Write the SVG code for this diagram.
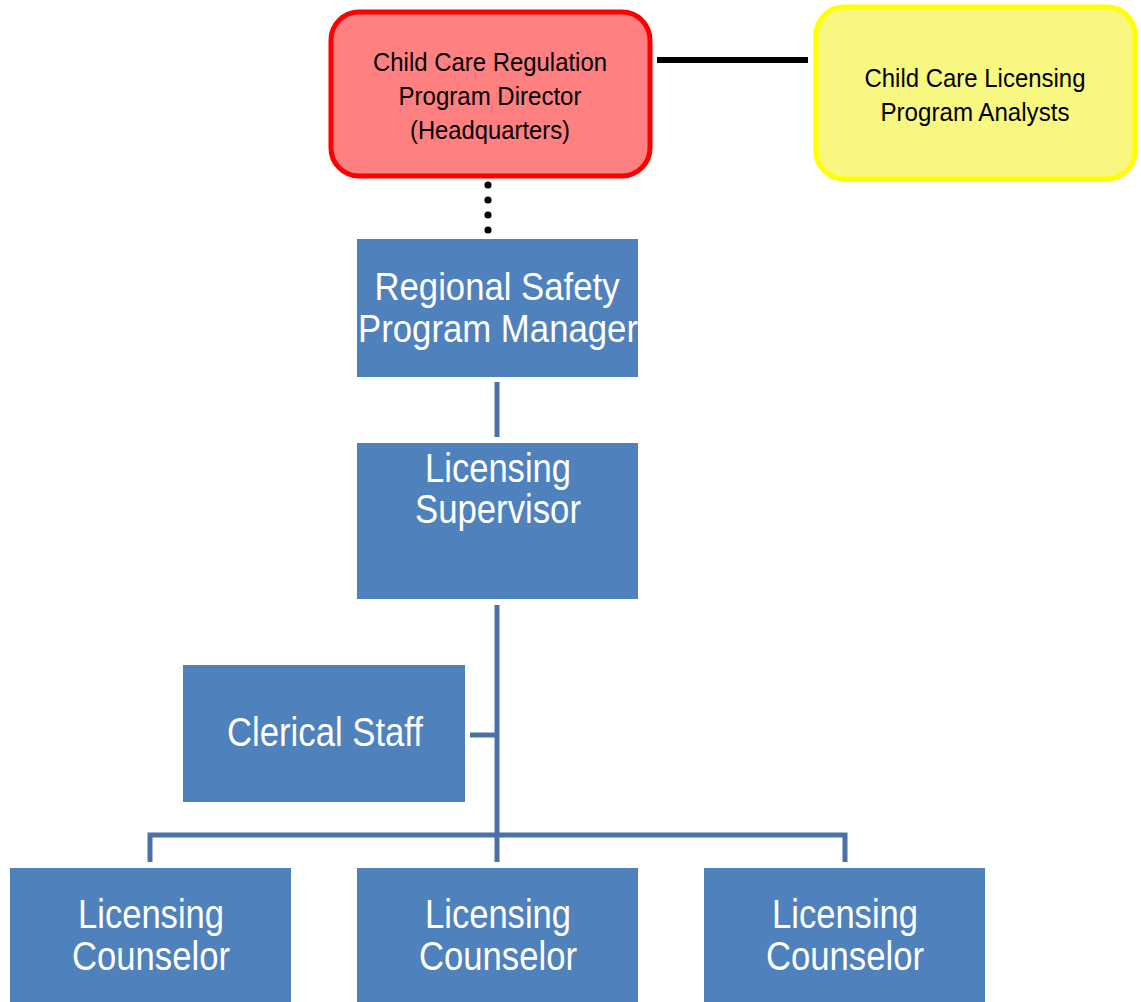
<svg xmlns="http://www.w3.org/2000/svg" width="1141" height="1002" viewBox="0 0 1141 1002">
<style>
.blue{fill:#4F81BD;}
.wt{fill:#FFFFFF;font-family:"Liberation Sans",Arial,sans-serif;font-size:38px;text-anchor:middle;}
.wl{font-size:40px;}
.bt{fill:#000000;font-family:"Liberation Sans",Arial,sans-serif;font-size:26px;text-anchor:middle;}
.conn{stroke:#4A72A8;stroke-width:5;fill:none;}
</style>
<rect width="1141" height="1002" fill="#FFFFFF"/>
<g id="connectors">
<line x1="657" y1="60" x2="808" y2="60" stroke="#000" stroke-width="6"/>
<g fill="#000">
<circle cx="488" cy="185" r="3.6"/>
<circle cx="488" cy="200" r="3.6"/>
<circle cx="488" cy="215" r="3.6"/>
<circle cx="488" cy="230" r="3.6"/>
</g>
<line class="conn" x1="497" y1="382" x2="497" y2="437"/>
<line class="conn" x1="497" y1="605" x2="497" y2="862"/>
<line class="conn" x1="470" y1="735" x2="497" y2="735"/>
<polyline class="conn" points="150,862 150,835 845,835 845,862"/>
</g>
<g id="director">
<rect x="331" y="12" width="319" height="164" rx="28" fill="#FF8080" stroke="#FF0000" stroke-width="5"/>
<text class="bt" x="490" y="71" textLength="234" lengthAdjust="spacingAndGlyphs">Child Care Regulation</text>
<text class="bt" x="490" y="105" textLength="183" lengthAdjust="spacingAndGlyphs">Program Director</text>
<text class="bt" x="490" y="139" textLength="160" lengthAdjust="spacingAndGlyphs">(Headquarters)</text>
</g>
<g id="analysts">
<rect x="816" y="7" width="319" height="172" rx="28" fill="#F8F880" stroke="#FFFF00" stroke-width="5"/>
<text class="bt" x="975" y="87" textLength="221" lengthAdjust="spacingAndGlyphs">Child Care Licensing</text>
<text class="bt" x="975" y="121" textLength="189" lengthAdjust="spacingAndGlyphs">Program Analysts</text>
</g>
<g id="regional">
<rect class="blue" x="357" y="239" width="281" height="138"/>
<text class="wt" x="497" y="300" textLength="245" lengthAdjust="spacingAndGlyphs">Regional Safety</text>
<text class="wt" x="498" y="342" textLength="280" lengthAdjust="spacingAndGlyphs">Program Manager</text>
</g>
<g id="supervisor">
<rect class="blue" x="357" y="443" width="281" height="156"/>
<text class="wt wl" x="498" y="482" textLength="146" lengthAdjust="spacingAndGlyphs">Licensing</text>
<text class="wt wl" x="498" y="523" textLength="166" lengthAdjust="spacingAndGlyphs">Supervisor</text>
</g>
<g id="clerical">
<rect class="blue" x="183" y="665" width="282" height="137"/>
<text class="wt wl" x="325" y="746" textLength="196" lengthAdjust="spacingAndGlyphs">Clerical Staff</text>
</g>
<g id="counselor1">
<rect class="blue" x="10" y="868" width="281" height="140"/>
<text class="wt wl" x="151" y="928" textLength="146" lengthAdjust="spacingAndGlyphs">Licensing</text>
<text class="wt wl" x="151" y="970" textLength="158" lengthAdjust="spacingAndGlyphs">Counselor</text>
</g>
<g id="counselor2">
<rect class="blue" x="357" y="868" width="281" height="140"/>
<text class="wt wl" x="498" y="928" textLength="146" lengthAdjust="spacingAndGlyphs">Licensing</text>
<text class="wt wl" x="498" y="970" textLength="158" lengthAdjust="spacingAndGlyphs">Counselor</text>
</g>
<g id="counselor3">
<rect class="blue" x="704" y="868" width="281" height="140"/>
<text class="wt wl" x="845" y="928" textLength="146" lengthAdjust="spacingAndGlyphs">Licensing</text>
<text class="wt wl" x="845" y="970" textLength="158" lengthAdjust="spacingAndGlyphs">Counselor</text>
</g>
</svg>
